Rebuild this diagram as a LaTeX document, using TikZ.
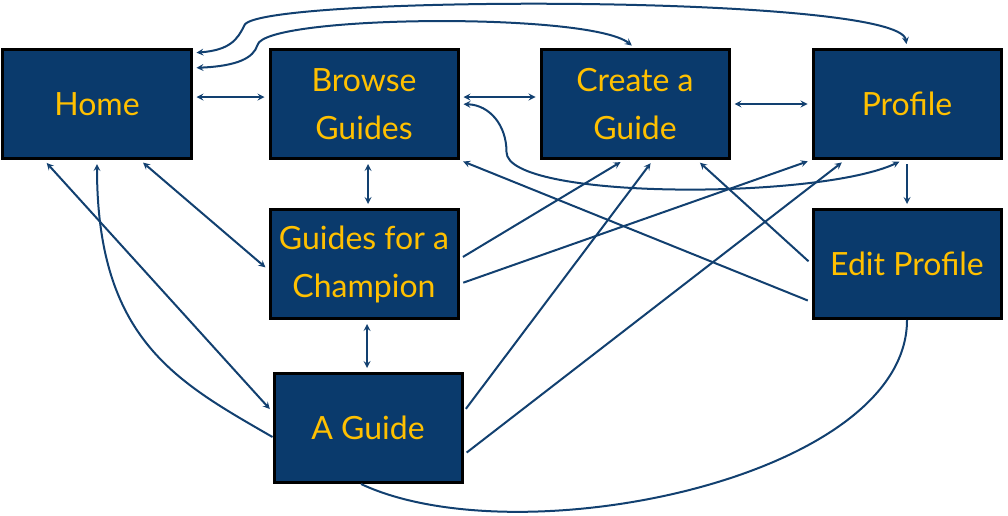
\documentclass[tikz,border=0pt]{standalone}
\usepackage{fontspec}
\setmainfont{Lato}
\usetikzlibrary{positioning}
\definecolor{pageblue}{RGB}{10,58,108}
\definecolor{linkblue}{RGB}{18,64,112}
\definecolor{labelgold}{RGB}{255,192,0}
\begin{document}
\begin{tikzpicture}[>=stealth, x=1pt, y=1pt, font=\fontsize{32}{48}\selectfont]

    % Define node styles
    \tikzstyle{page_block} = [draw=black, line width=3pt, fill=pageblue, text=labelgold, minimum width=188pt, minimum height=109pt, align=center]
    \tikzstyle{link_line} = [linkblue, line width=2pt, shorten >=4pt, shorten <=4pt]

    \useasboundingbox (-97,104) rectangle (911,-411);

    % Draw nodes
    \node [page_block] (home) {Home};
    \node [page_block, right=76pt of home] (browse) {Browse\\Guides};
    \node [page_block, right=80pt of browse] (create) {Create a\\Guide};
    \node [page_block, right=81pt of create] (profile) {Profile};
    \node [page_block, below=48pt of browse] (champion) {Guides for a\\Champion};
    \node [page_block, below=52pt of champion, xshift=4pt] (guide) {A Guide};
    \node [page_block, below=48pt of profile] (editprofile) {Edit Profile};

    % Draw arrows
    \draw [<->, link_line] ([yshift=7pt]home.east) -- ([yshift=7pt]browse.west);
    \draw [<->, link_line] ([yshift=7pt]browse.east) -- ([yshift=7pt]create.west);
    \draw [<->, link_line] (create.east) -- (profile.west);
    \draw [<->, link_line] ([xshift=4pt]browse.south) -- ([xshift=4pt]browse.south |- champion.north);
    \draw [<->, link_line] ([xshift=3pt]champion.south) -- ([xshift=3pt]champion.south |- guide.north);
    \draw [->, link_line] (profile.south) -- (editprofile.north);

    \draw [<->, link_line] ([xshift=43pt]home.south) -- ([yshift=-6pt]champion.west);
    \draw [<->, link_line] ([xshift=-53pt]home.south) -- ([yshift=16pt]guide.west);
    \draw [->, link_line, shorten <=0pt] ([yshift=-9pt]guide.west) .. controls +(150:110) and +(0,-180) .. (home.south);
    \draw [link_line, shorten <=0pt, shorten >=0pt] (editprofile.south) .. controls +(0,-158) and +(158,-74) .. ([xshift=-7pt]guide.south);

    \draw [->, link_line] ([yshift=5pt]champion.east) -- ([xshift=-11pt]create.south);
    \draw [->, link_line] ([yshift=-20pt]champion.east) -- (profile.south west);
    \draw [->, link_line] ([yshift=16pt]guide.east) -- ([xshift=18pt]create.south);
    \draw [->, link_line] ([yshift=-27pt]guide.east) -- ([xshift=-62pt]profile.south);
    \draw [->, link_line] (editprofile.west) -- ([xshift=62pt]create.south);
    \draw [->, link_line] ([yshift=-38pt]editprofile.west) -- (browse.south east);

    \draw [<->, link_line] (browse.east) .. controls +(30,-1) and +(0,27) .. ([shift={(47,-48)}]browse.east) .. controls +(0,-48) and +(-85,-40) .. ([xshift=-4pt]profile.south);
    \draw [<->, link_line] ([yshift=-5pt]home.north east) .. controls +(37,3) and +(-7,-15) .. ([shift={(52,23)}]home.north east) .. controls +(15,30) and +(-8,54) .. (profile.north);
    \draw [<->, link_line] ([yshift=36pt]home.east) .. controls +(45,2) and +(-4,-13) .. ([shift={(65,3)}]home.north east) .. controls +(7,30) and +(-46,36) .. (create.north);

\end{tikzpicture}
\end{document}
